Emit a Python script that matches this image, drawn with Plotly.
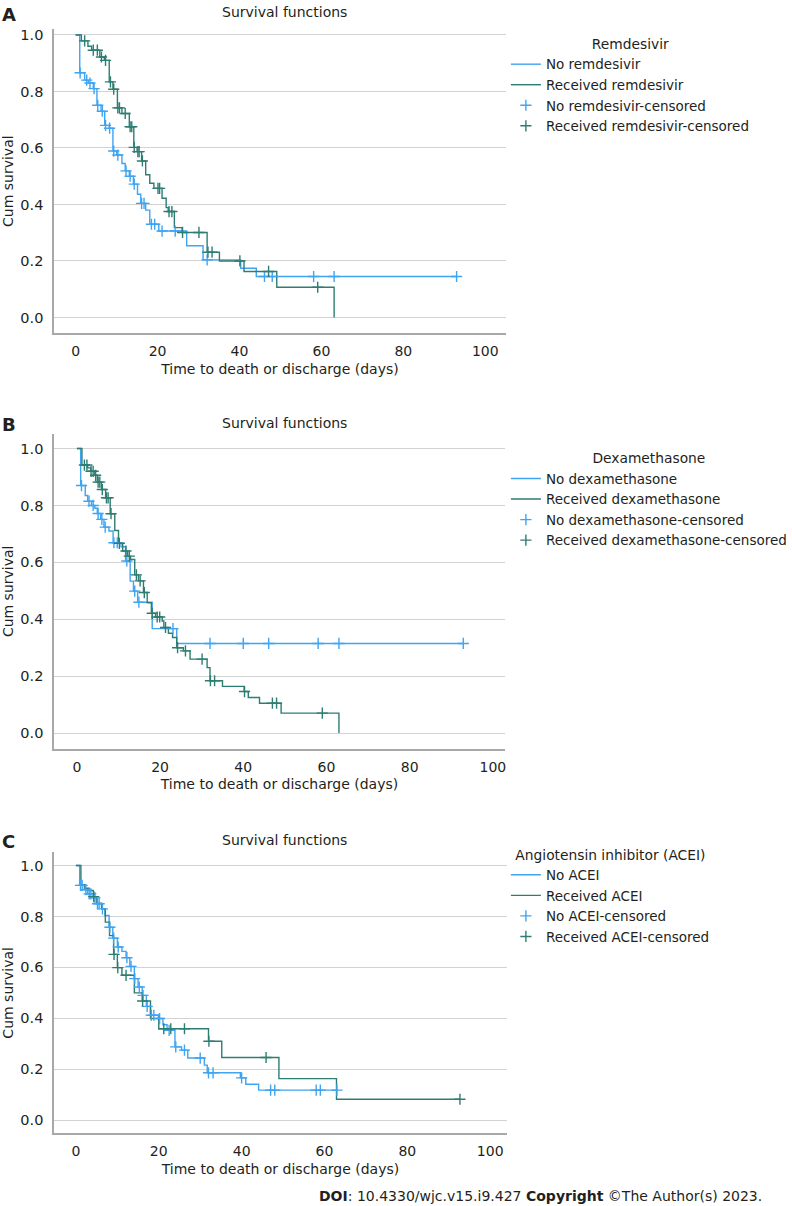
import numpy as np
import plotly.graph_objects as go

W, H = 792, 1206
BLUE = "#3FA4F2"
TEAL = "#2E7D72"
FONT = "DejaVu Sans"
TXT = "#231F20"

# ---------------- Panel A : Remdesivir ----------------
a_no_t = [0, 1.0, 2.2, 3.1, 4.3, 5.2, 6.2, 7.1, 8.2, 9.1, 10.0, 11.3, 12.1, 13.1, 14.1, 15.1, 15.9,
          17.1, 18.1, 20.3, 27.1, 31.1, 40.3, 44.1, 93.0]
a_no_s = [1.0, 0.866, 0.84, 0.83, 0.81, 0.751, 0.73, 0.68, 0.67, 0.589, 0.575, 0.545, 0.519, 0.50,
          0.472, 0.436, 0.404, 0.38, 0.33, 0.306, 0.254, 0.204, 0.174, 0.145, 0.145]
a_no_c = [1.1, 2.7, 3.5, 4.5, 5.4, 6.5, 7.3, 8.3, 9.3, 10.3, 12.3, 13.3, 14.3, 16.1, 16.7, 18.5,
          19.3, 21.1, 24.3, 32.1, 46.1, 48.0, 58.1, 63.1, 93.0]
a_rx_t = [0, 1.4, 3.0, 3.9, 5.9, 7.0, 8.2, 9.1, 10.2, 11.3, 13.1, 14.2, 15.0, 16.1, 17.1, 18.1, 19.1,
          21.1, 22.1, 22.6, 24.1, 26.0, 32.1, 35.1, 41.1, 49.1, 63.1]
a_rx_s = [1.0, 0.979, 0.96, 0.946, 0.922, 0.91, 0.834, 0.808, 0.742, 0.722, 0.675, 0.602, 0.587, 0.554,
          0.505, 0.475, 0.457, 0.422, 0.389, 0.375, 0.318, 0.301, 0.231, 0.20, 0.163, 0.107, 0.0]
a_rx_c = [2.2, 4.3, 5.3, 6.3, 7.3, 8.5, 9.3, 10.3, 10.7, 12.1, 13.3, 13.7, 14.3, 15.2, 15.5, 16.3,
          20.1, 20.5, 22.8, 23.5, 26.1, 30.1, 32.3, 33.3, 40.1, 47.1, 59.1]

# ---------------- Panel B : Dexamethasone ----------------
b_no_t = [0, 0.9, 2.0, 2.6, 3.5, 4.3, 4.9, 5.7, 6.5, 7.7, 8.7, 10.6, 11.7, 12.8, 13.6, 14.6, 18.1,
          24.0, 92.9]
b_no_s = [1.0, 0.87, 0.835, 0.815, 0.80, 0.79, 0.772, 0.751, 0.724, 0.71, 0.669, 0.655, 0.605, 0.534,
          0.499, 0.46, 0.367, 0.315, 0.315]
b_no_c = [1.1, 2.9, 3.9, 5.1, 6.0, 6.8, 8.9, 9.7, 12.0, 13.9, 14.9, 23.1, 32.0, 40.0, 46.1, 58.0,
          63.0, 92.9]
b_rx_t = [0, 1.2, 2.6, 3.3, 4.3, 4.9, 5.9, 6.9, 8.0, 9.1, 10.0, 11.0, 12.2, 12.9, 13.9, 14.8, 16.0,
          16.9, 17.9, 18.9, 20.5, 20.9, 22.0, 23.0, 24.0, 25.6, 27.2, 31.3, 32.0, 35.0, 40.2, 41.2,
          43.9, 49.1, 63.0]
b_rx_s = [1.0, 0.942, 0.932, 0.92, 0.906, 0.882, 0.856, 0.827, 0.771, 0.712, 0.667, 0.64, 0.622, 0.61,
          0.556, 0.535, 0.494, 0.458, 0.421, 0.408, 0.394, 0.371, 0.351, 0.336, 0.30, 0.289, 0.26,
          0.23, 0.184, 0.164, 0.146, 0.125, 0.105, 0.07, 0.0]
b_rx_c = [1.8, 2.4, 3.4, 3.9, 4.5, 5.1, 5.5, 6.1, 7.1, 7.5, 8.2, 10.2, 11.8, 12.6, 14.3, 15.2, 16.2,
          18.1, 19.3, 19.9, 21.3, 24.2, 26.1, 30.1, 32.1, 33.1, 40.3, 47.0, 48.0, 59.0]

# ---------------- Panel C : ACEI ----------------
c_no_t = [0, 0.9, 2.0, 2.8, 4.2, 5.0, 6.2, 7.0, 8.0, 8.9, 10.0, 11.1, 12.1, 13.0, 14.1, 15.0, 16.0,
          17.0, 18.0, 19.9, 21.0, 22.0, 23.9, 25.5, 27.0, 31.0, 31.7, 39.7, 41.0, 44.1, 63.0]
c_no_s = [1.0, 0.922, 0.905, 0.889, 0.873, 0.85, 0.83, 0.804, 0.758, 0.715, 0.68, 0.663, 0.638, 0.604,
          0.556, 0.523, 0.49, 0.447, 0.412, 0.399, 0.375, 0.353, 0.288, 0.275, 0.244, 0.216, 0.186,
          0.166, 0.141, 0.118, 0.118]
c_no_c = [1.1, 1.5, 2.4, 3.2, 3.6, 4.6, 5.2, 5.6, 6.4, 8.2, 9.1, 10.2, 12.3, 13.3, 14.2, 15.3, 16.2,
          17.2, 18.2, 18.8, 20.2, 22.5, 24.1, 26.2, 30.0, 32.0, 33.1, 40.0, 47.0, 48.0, 58.0, 59.0, 63.0]
c_rx_t = [0, 1.2, 2.2, 3.2, 4.2, 5.1, 6.2, 7.1, 8.1, 9.1, 10.0, 11.1, 14.1, 16.0, 18.0, 20.0, 32.0,
          35.2, 49.0, 62.9, 92.7]
c_rx_s = [1.0, 0.925, 0.911, 0.902, 0.878, 0.852, 0.83, 0.778, 0.725, 0.651, 0.599, 0.569, 0.50,
          0.468, 0.399, 0.359, 0.31, 0.246, 0.163, 0.082, 0.082]
c_rx_c = [4.3, 9.2, 10.1, 12.1, 16.1, 21.2, 22.9, 26.2, 32.1, 45.9, 92.7]

x_ticks = [0, 20, 40, 60, 80, 100]
y_ticks = [0.0, 0.2, 0.4, 0.6, 0.8, 1.0]

panels = [
    dict(letter="A", group="Remdesivir", no="No remdesivir", rx="Received remdesivir",
         no_t=a_no_t, no_s=a_no_s, no_c=a_no_c, rx_t=a_rx_t, rx_s=a_rx_s, rx_c=a_rx_c,
         px_x=(55, 515), x0=77, x100=494, px_y=(27, 332), y1=33, y0=316,
         title_y=10, letter_y=13, leg_y=29),
    dict(letter="B", group="Dexamethasone", no="No dexamethasone", rx="Received dexamethasone",
         no_t=b_no_t, no_s=b_no_s, no_c=b_no_c, rx_t=b_rx_t, rx_s=b_rx_s, rx_c=b_rx_c,
         px_x=(55, 514), x0=78.3, x100=501.7, px_y=(432.3, 748.3), y1=447.3, y0=732.3,
         title_y=421.7, letter_y=423, leg_y=444),
    dict(letter="C", group="Angiotensin inhibitor (ACEI)", no="No ACEI", rx="Received ACEI",
         no_t=c_no_t, no_s=c_no_s, no_c=c_no_c, rx_t=c_rx_t, rx_s=c_rx_s, rx_c=c_rx_c,
         px_x=(55, 516), x0=77.3, x100=499, px_y=(851.7, 1133.3), y1=865, y0=1120,
         title_y=839.3, letter_y=841, leg_y=841),
]


def surv_at(ts, ss, tc):
    ts = np.asarray(ts)
    ss = np.asarray(ss)
    idx = np.searchsorted(ts, np.asarray(tc), side="right") - 1
    return ss[idx]


fig = go.Figure()
layout = dict()
annotations = []

for i, p in enumerate(panels, start=1):
    xa = "x" if i == 1 else f"x{i}"
    ya = "y" if i == 1 else f"y{i}"
    leg = "legend" if i == 1 else f"legend{i}"
    for name, t, s, col in [(p["no"], p["no_t"], p["no_s"], BLUE),
                            (p["rx"], p["rx_t"], p["rx_s"], TEAL)]:
        fig.add_trace(go.Scatter(x=t, y=s, mode="lines", line=dict(shape="hv", color=col, width=1.4),
                                 name=name, xaxis=xa, yaxis=ya, legend=leg))
    for name, t, s, c, col in [(p["no"] + "-censored", p["no_t"], p["no_s"], p["no_c"], BLUE),
                               (p["rx"] + "-censored", p["rx_t"], p["rx_s"], p["rx_c"], TEAL)]:
        fig.add_trace(go.Scatter(x=c, y=surv_at(t, s, c), mode="markers",
                                 marker=dict(symbol="cross-thin", size=8, line=dict(color=col, width=1.4),
                                             color=col),
                                 name=name, xaxis=xa, yaxis=ya, legend=leg))

    ppd = (p["x100"] - p["x0"]) / 100.0
    xr = [(p["px_x"][0] - p["x0"]) / ppd, (p["px_x"][1] - p["x0"]) / ppd]
    ppu = p["y0"] - p["y1"]
    yr = [(p["y0"] - p["px_y"][1]) / ppu, (p["y0"] - p["px_y"][0]) / ppu]

    kx = "xaxis" if i == 1 else f"xaxis{i}"
    ky = "yaxis" if i == 1 else f"yaxis{i}"
    layout[kx] = dict(domain=[p["px_x"][0] / W, p["px_x"][1] / W], range=xr, anchor=ya,
                      tickvals=x_ticks, showgrid=False, zeroline=False, showline=True,
                      linecolor="#A8A8A8", linewidth=1.5, ticks="", ticklabelstandoff=4,
                      tickfont=dict(size=14, color=TXT, family=FONT),
                      title=dict(text="Time to death or discharge (days)", standoff=6,
                                 font=dict(size=14, color=TXT, family=FONT)))
    layout[ky] = dict(domain=[1 - p["px_y"][1] / H, 1 - p["px_y"][0] / H], range=yr, anchor=xa,
                      tickvals=y_ticks, tickformat=".1f", showgrid=True, gridcolor="#D2D2D2",
                      gridwidth=1.3, zeroline=False, showline=True, linecolor="#A8A8A8",
                      linewidth=1.5, ticks="", ticklabelstandoff=6,
                      tickfont=dict(size=14.5, color=TXT, family=FONT),
                      title=dict(text="Cum survival", standoff=8,
                                 font=dict(size=14, color=TXT, family=FONT)))
    layout[leg] = dict(x=515 / W, y=1 - p["leg_y"] / H, xanchor="left", yanchor="top",
                       bgcolor="rgba(0,0,0,0)", traceorder="normal", itemwidth=30,
                       font=dict(size=13.5, color=TXT, family=FONT),
                       title=dict(text=p["group"], side="top center",
                                  font=dict(size=13.8, color=TXT, family=FONT)))
    annotations.append(dict(text="Survival functions", xref="paper", yref="paper",
                            x=290 / W, y=1 - p["title_y"] / H, xanchor="center", yanchor="middle",
                            showarrow=False, font=dict(size=14, color=TXT, family=FONT)))
    annotations.append(dict(text="<b>" + p["letter"] + "</b>", xref="paper", yref="paper",
                            x=0 / W, y=1 - p["letter_y"] / H, xanchor="left", yanchor="middle",
                            showarrow=False, font=dict(size=18, color=TXT, family=FONT)))

annotations.append(dict(text="<b>DOI</b>: 10.4330/wjc.v15.i9.427 <b>Copyright</b> ©The Author(s) 2023.",
                        xref="paper", yref="paper", x=778 / W, y=1 - 1196 / H,
                        xanchor="right", yanchor="middle", showarrow=False,
                        font=dict(size=14, color=TXT, family=FONT)))

fig.update_layout(width=W, height=H, autosize=False, margin=dict(l=0, r=0, t=0, b=0),
                  paper_bgcolor="white", plot_bgcolor="white", showlegend=True,
                  font=dict(family=FONT, color=TXT), annotations=annotations, **layout)

fig.write_html("out.html",
               config={"responsive": False, "displayModeBar": False},
               post_script="document.body.style.margin='0px';"
                           "document.body.style.overflow='hidden';")
